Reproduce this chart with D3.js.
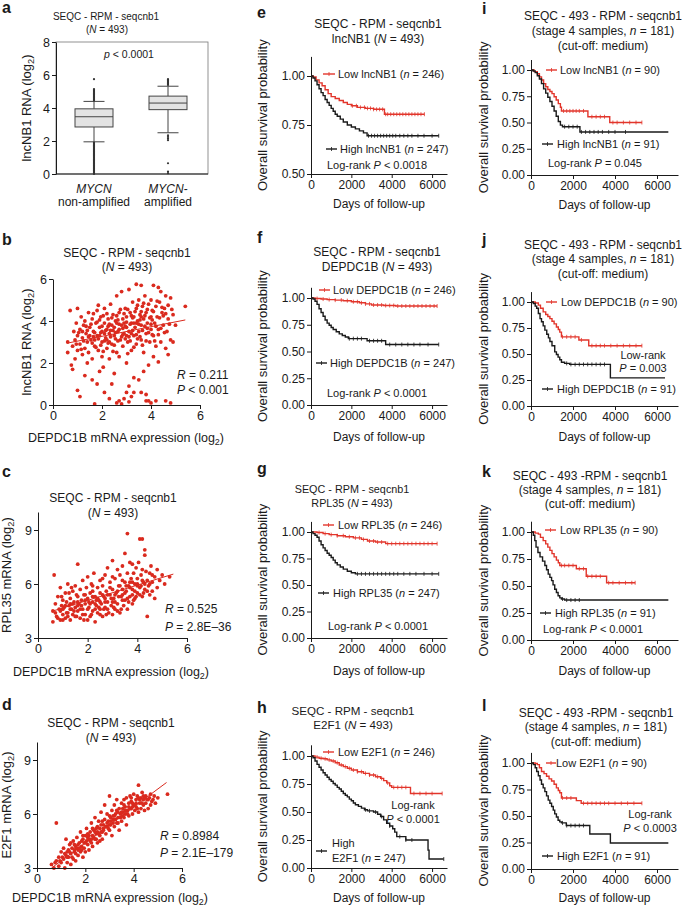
<!DOCTYPE html>
<html><head><meta charset="utf-8">
<script src="https://cdn.jsdelivr.net/npm/d3@7"></script>
<style>
body{margin:0;background:#fff;}
svg text{font-family:"Liberation Sans",Arial,Helvetica,sans-serif;white-space:pre;}
</style></head><body>
<script>
// ---------------- DATA ----------------
const boxCategories = ["non", "amp"];
const boxStats = [ // [whiskerLow, Q1, median, Q3, whiskerHigh]
  [1.95, 2.85, 3.47, 3.95, 4.4],
  [2.5, 3.9, 4.3, 4.72, 5.32]
];
const nonampOutliers = [4.45,4.5,4.55,4.6,4.65,4.7,4.75,4.8,4.85,4.9,4.95,5.0,5.05,5.1,5.15,5.75,
  1.9,1.85,1.8,1.75,1.7,1.65,1.6,1.55,1.5,1.45,1.4,1.35,1.3,1.25,1.2,1.15,1.1,1.05,1.0,0.95,0.9,0.85,0.8,0.75,0.7,0.65,0.6,0.55,0.5,0.45,0.4,0.35,0.3,0.25,0.2,0.15,0.1,0.05,0];
const ampOutliers = [5.4,5.45,5.5,5.55,5.6,5.65,5.7,5.75,2.35,2.25,2.15,2.05,0.65,0.15,0.05];
const boxYTicks = [0,2,4,6,8];
const scatterXTicks = [0,2,4,6];

const pointsB = [[0.6,3.0],[0.6,2.5],[0.7,4.5],[0.75,1.9],[0.8,1.7],[0.8,2.8],[0.85,3.5],[0.9,3.1],[0.9,2.2],[0.95,3.9],[1.0,0.7],[1.0,2.6],[1.0,4.6],[1.0,3.3],
 [1.1,0.4],[1.1,3.6],[1.1,2.9],[1.15,4.2],[1.2,3.2],[1.2,2.4],[1.25,3.8],[1.3,1.4],[1.3,2.7],[1.3,4.0],[1.35,3.4],[1.4,2.0],[1.4,3.0],[1.45,4.4],[1.45,2.5],[1.5,3.7],
 [1.55,3.1],[1.6,1.2],[1.6,2.2],[1.6,4.1],[1.65,3.5],[1.7,0.05],[1.7,2.8],[1.75,3.9],[1.8,1.0],[1.8,3.3],[1.8,4.5],[1.85,2.6],[1.9,1.6],[1.9,3.7],[1.95,4.2],[2.0,3.0],[2.0,2.3],[2.0,3.5],
 [2.05,1.8],[2.1,0.6],[2.1,3.9],[2.1,4.6],[2.15,3.2],[2.2,2.7],[2.2,3.6],[2.25,4.1],[2.3,0.3],[2.3,2.2],[2.3,3.4],[2.35,4.8],[2.4,1.0],[2.4,3.8],[2.4,2.9],[2.45,4.3],[2.5,1.5],[2.5,3.3],[2.5,3.7],
 [2.55,4.0],[2.6,0.1],[2.6,2.5],[2.6,5.2],[2.65,3.5],[2.7,0.2],[2.7,2.3],[2.7,4.4],[2.75,3.1],[2.8,0.05],[2.8,3.8],[2.8,5.4],[2.85,4.1],[2.85,2.8],[2.9,0.3],[2.9,3.4],[2.95,4.6],[3.0,0.6],[3.0,2.0],[3.0,3.7],[3.0,4.2],
 [3.05,3.0],[3.1,0.9],[3.1,0.15],[3.1,5.5],[3.1,3.5],[3.15,4.4],[3.2,0.4],[3.2,2.6],[3.2,3.9],[3.25,4.9],[3.3,0.6],[3.3,1.3],[3.3,3.3],[3.3,4.2],[3.35,3.7],[3.4,5.75],[3.4,2.9],[3.4,4.6],[3.45,4.0],[3.5,1.2],[3.5,3.5],[3.5,5.0],
 [3.55,4.3],[3.6,0.6],[3.6,5.7],[3.6,3.1],[3.6,3.8],[3.65,4.7],[3.7,1.6],[3.7,4.1],[3.7,2.5],[3.75,5.2],[3.8,0.5],[3.8,0.2],[3.8,3.4],[3.8,4.4],[3.85,3.9],[3.9,0.2],[3.9,1.9],[3.9,4.8],[3.95,3.0],[4.0,0.1],[4.0,4.2],[4.0,3.6],[4.0,5.0],
 [4.05,4.5],[4.1,5.7],[4.1,2.3],[4.1,3.3],[4.15,3.9],[4.2,0.2],[4.2,4.7],[4.2,2.8],[4.25,4.2],[4.3,5.6],[4.3,2.05],[4.3,3.6],[4.35,4.9],[4.4,5.4],[4.4,3.0],[4.45,4.4],[4.5,3.8],
 [4.55,4.6],[4.6,0.2],[4.6,2.7],[4.6,5.2],[4.65,3.5],[4.7,2.4],[4.7,4.1],[4.8,0.1],[4.8,5.1],[4.8,3.1],[4.9,3.0],[4.9,4.3],[5.0,3.8],[5.4,4.7],
 [1.2,3.5],[1.5,3.3],[1.7,3.1],[1.9,3.3],[2.1,3.4],[2.3,3.0],[2.6,3.9],[2.9,3.9],[3.2,3.4],[3.4,3.9],[3.6,4.2],[2.2,3.1],[2.7,3.6],[3.0,3.3],[3.3,3.9],
 [1.25,3.05],[1.35,3.75],[1.45,3.25],[1.55,3.85],[1.6,2.95],[1.65,4.35],[1.7,3.45],[1.75,2.75],[1.8,3.95],[1.85,3.15],[1.9,4.05],[1.95,2.85],[2.0,3.75],[2.05,4.25],[2.1,3.05],[2.15,3.55],[2.2,4.35],[2.25,2.95],[2.3,3.85],[2.35,3.25],[2.4,4.15],[2.45,3.55],[2.5,2.85],[2.55,3.45],[2.6,4.25],[2.65,3.05],[2.7,3.85],[2.75,4.55],[2.8,3.25],[2.85,3.65],[2.9,4.35],[2.95,3.15],[3.0,3.95],[3.05,4.55],[3.1,3.25],[3.15,3.85],[3.2,4.25],[3.25,3.55],[3.3,2.75],[3.35,4.45],[3.4,3.35],[3.45,4.75],[3.5,3.85],[3.55,3.25],[3.6,4.45],[3.65,3.55],[3.7,4.85],[3.75,3.75],[3.8,3.05],[3.85,4.55],[3.9,3.45],[3.95,4.15],[4.0,3.85],[4.05,3.35],[4.1,4.45],[4.15,3.05],[4.2,3.75],[4.25,4.95],[4.3,3.35],[4.35,4.15],[4.4,3.65],[4.45,4.65],[4.5,4.25],[4.55,3.45],[4.6,4.35],[4.7,4.75],[4.75,3.85],[4.85,4.55],[1.05,3.45],[0.95,2.9],[1.15,2.65],[1.4,3.55],[1.65,3.25],[1.95,3.45],[2.25,3.75],[2.55,3.15],[2.85,3.35],[3.15,3.05],[3.45,3.15],[3.75,4.25],[4.05,4.05],[2.35,3.55],[2.65,4.05],[2.95,3.75],[3.25,4.15],[3.55,4.05],[3.85,3.65],[2.45,2.55],[3.05,2.45],[3.65,2.85],[1.85,4.75],[2.05,2.55]];
const trendB = [[0.6,2.95],[5.4,4.05]];

const pointsC = [[0.6,4.5],[0.6,3.9],[0.65,6.5],[0.7,4.9],[0.75,4.2],[0.8,5.3],[0.85,4.6],[0.9,5.8],[0.9,4.0],[0.95,4.8],[1.0,5.1],[1.0,4.3],
 [1.05,4.7],[1.1,5.5],[1.1,4.1],[1.15,5.0],[1.2,4.4],[1.2,6.0],[1.25,4.8],[1.3,5.2],[1.3,4.0],[1.35,4.6],[1.4,5.6],[1.4,4.3],[1.45,5.0],[1.5,4.7],[1.5,5.9],
 [1.55,4.2],[1.6,7.1],[1.6,5.3],[1.6,4.5],[1.65,4.9],[1.7,5.7],[1.7,4.1],[1.75,5.1],[1.8,4.6],[1.8,6.2],[1.85,5.4],[1.9,4.3],[1.9,4.9],[1.95,5.8],[2.0,4.0],[2.0,5.2],[2.0,6.4],
 [2.05,4.7],[2.1,5.5],[2.1,4.2],[2.15,6.0],[2.2,5.0],[2.2,4.5],[2.25,6.6],[2.3,5.3],[2.3,3.9],[2.35,4.8],[2.4,5.8],[2.4,4.4],[2.45,5.1],[2.5,6.2],[2.5,4.6],[2.5,5.5],
 [2.55,4.9],[2.6,5.9],[2.6,4.2],[2.65,5.3],[2.7,6.5],[2.7,4.7],[2.75,5.6],[2.8,5.0],[2.8,6.9],[2.85,4.4],[2.9,5.4],[2.9,6.1],[2.95,4.8],[3.0,5.7],[3.0,7.3],[3.0,4.3],
 [3.05,5.2],[3.1,6.3],[3.1,4.6],[3.15,5.5],[3.2,6.8],[3.2,4.9],[3.25,5.9],[3.3,4.4],[3.3,6.5],[3.35,5.3],[3.4,7.0],[3.4,5.7],[3.45,4.8],[3.5,7.7],[3.5,6.1],[3.5,5.1],
 [3.55,5.6],[3.6,8.8],[3.6,6.6],[3.6,4.6],[3.65,5.9],[3.7,7.2],[3.7,5.3],[3.75,6.3],[3.8,7.1],[3.8,4.9],[3.8,5.7],[3.85,6.6],[3.9,6.0],[3.9,5.2],[3.95,6.9],[4.0,5.5],[4.0,6.3],
 [4.05,7.2],[4.1,8.5],[4.1,5.8],[4.15,6.5],[4.2,8.5],[4.2,5.3],[4.25,6.1],[4.3,7.9],[4.3,7.6],[4.3,5.7],[4.35,6.7],[4.4,6.2],[4.4,4.2],[4.45,5.9],[4.5,6.6],[4.5,5.4],
 [4.55,7.0],[4.6,6.1],[4.6,5.6],[4.7,6.4],[4.7,5.2],[4.8,6.8],[4.8,5.8],[4.9,6.2],[5.0,6.5],[5.1,6.0],[5.3,6.4],
 [1.0,4.6],[1.3,4.9],[1.6,4.8],[1.9,5.1],[2.2,5.3],[2.5,5.0],[2.8,5.4],[3.1,5.0],[3.4,5.4],[3.7,5.8],[4.0,5.9],[2.3,4.9],[2.7,5.2],[3.2,5.6],
 [0.7,4.4],[0.8,4.1],[0.9,4.5],[1.0,4.0],[1.1,4.8],[1.2,4.2],[1.3,4.6],[1.4,4.9],[1.5,4.2],[1.6,5.0],[1.7,4.6],[1.8,4.3],[1.9,5.4],[2.0,4.6],[2.1,4.9],[2.2,5.6],[2.3,4.6],[2.4,5.2],[2.5,4.3],[2.6,5.4],[2.7,5.0],[2.8,4.6],[2.9,5.8],[3.0,5.0],[3.1,5.4],[3.2,4.5],[3.3,5.9],[3.4,5.1],[3.5,5.5],[3.6,5.2],[3.7,6.1],[3.8,5.4],[3.9,5.6],[4.0,6.0],[4.1,5.4],[4.2,6.2],[4.3,6.0],[4.4,5.6],[4.5,6.0],[4.6,6.5],[1.15,4.4],[1.45,4.5],[1.75,4.8],[2.05,5.0],[2.35,5.1],[2.65,4.6],[2.95,5.2],[3.25,5.3],[3.55,5.9],[3.85,5.1],[4.15,5.9],[1.25,5.5],[1.55,5.4],[1.85,4.0],[2.15,4.3],[2.45,4.7],[2.75,4.3],[3.05,4.7],[3.35,4.6],[3.65,5.0],[3.95,5.3],[4.25,5.5],[2.6,6.3],[3.0,6.4],[3.4,6.2],[3.8,6.1],[4.2,6.8],[0.95,5.3],[1.35,5.8],[2.2,5.9]];
const trendC = [[0.6,4.5],[5.45,6.55]];

const pointsD = [[0.6,3.2],[0.7,3.0],[0.8,5.5],[0.8,3.4],[0.9,3.1],[0.9,3.6],[1.0,3.3],[1.0,3.9],
 [1.1,3.5],[1.1,4.1],[1.15,3.0],[1.2,4.6],[1.2,3.7],[1.25,3.3],[1.3,4.0],[1.3,3.6],[1.35,4.3],[1.4,3.8],[1.4,3.2],[1.45,4.1],[1.5,3.5],[1.5,4.5],
 [1.55,3.9],[1.6,4.2],[1.6,3.4],[1.65,4.7],[1.7,4.0],[1.7,3.7],[1.75,4.4],[1.8,5.0],[1.8,3.9],[1.85,4.2],[1.9,4.6],[1.9,3.6],[1.95,4.1],[2.0,4.8],[2.0,4.4],[2.0,3.9],
 [2.05,5.2],[2.1,4.3],[2.1,4.7],[2.15,4.0],[2.2,5.0],[2.2,4.5],[2.25,5.5],[2.3,4.2],[2.3,4.8],[2.35,5.1],[2.4,4.6],[2.4,5.8],[2.45,4.9],[2.5,5.3],[2.5,4.4],[2.5,5.0],
 [2.55,5.6],[2.6,4.8],[2.6,5.2],[2.65,6.1],[2.7,5.0],[2.7,4.6],[2.75,5.4],[2.8,6.5],[2.8,5.7],[2.85,4.9],[2.9,5.3],[2.9,6.0],[2.95,5.6],[3.0,5.1],[3.0,5.9],[3.0,7.0],
 [3.05,5.4],[3.1,6.2],[3.1,4.8],[3.15,5.7],[3.2,6.5],[3.2,5.3],[3.25,6.0],[3.3,5.5],[3.3,6.8],[3.35,5.8],[3.4,6.3],[3.4,5.1],[3.45,6.0],[3.5,6.6],[3.5,5.6],
 [3.55,6.1],[3.6,6.8],[3.6,5.8],[3.65,6.4],[3.7,5.4],[3.7,6.9],[3.75,6.2],[3.8,6.6],[3.8,5.9],[3.85,7.0],[3.9,6.3],[3.9,6.7],[3.95,6.0],[4.0,6.5],[4.0,7.1],
 [4.05,6.2],[4.1,6.8],[4.1,6.4],[4.15,7.0],[4.2,7.6],[4.2,6.1],[4.25,6.6],[4.3,6.9],[4.3,6.3],[4.35,7.2],[4.4,6.5],[4.4,6.8],[4.45,6.2],[4.5,7.0],[4.5,6.6],
 [4.6,6.8],[4.6,6.3],[4.7,7.1],[4.7,6.5],[4.8,6.8],[4.9,6.6],[5.0,6.9],[5.4,7.1],
 [1.25,3.9],[1.55,4.3],[1.85,4.5],[2.15,4.8],[2.45,5.2],[2.75,5.1],[3.05,5.8],[3.35,6.1],[3.65,6.0],[3.95,6.4],[2.25,4.6],[2.65,5.4],[3.15,5.5],[3.55,6.3],
 [0.75,3.3],[0.95,3.4],[1.05,3.6],[1.15,3.8],[1.25,3.6],[1.35,3.9],[1.45,3.6],[1.55,4.0],[1.65,4.1],[1.75,4.1],[1.85,4.0],[1.95,4.4],[2.05,4.5],[2.15,4.6],[2.25,4.4],[2.35,4.7],[2.45,4.6],[2.55,4.9],[2.65,5.0],[2.75,5.2],[2.85,5.3],[2.95,5.2],[3.05,5.6],[3.15,5.9],[3.25,5.7],[3.35,5.5],[3.45,5.8],[3.55,5.9],[3.65,6.2],[3.75,6.0],[3.85,6.3],[3.95,6.6],[4.05,6.5],[4.15,6.3],[4.25,6.8],[4.35,6.6],[4.45,6.9],[4.55,6.8],[4.65,6.9],[4.75,6.7],[4.85,7.0],[2.1,4.9],[2.4,5.0],[2.6,4.5],[2.9,5.5],[3.2,5.9],[3.5,6.1],[3.8,6.4],[4.1,6.6],[4.4,7.0],[1.7,4.3],[2.3,5.2],[2.7,5.6],[3.0,5.4],[3.3,6.2],[3.6,6.5],[3.9,6.9],[4.2,6.9],[1.4,4.4],[1.6,3.8],[1.9,4.8]];
const trendD = [[0.6,3.0],[5.36,7.75]];

const kmXTicks = [0,2000,4000,6000];
const kmYTicksFull = [0,0.25,0.5,0.75,1];
const kmYTicksE = [0.5,0.75,1];

// survival step data [days, probability]
const eLow = [[0,1],[100,0.995],[250,0.98],[400,0.965],[550,0.95],[700,0.93],[850,0.91],[1000,0.895],[1200,0.885],[1400,0.875],[1600,0.865],[1800,0.855],[2000,0.848],[2300,0.84],[2700,0.835],[3100,0.83],[3640,0.805],[5620,0.805]];
const eHigh = [[0,1],[100,0.99],[200,0.975],[300,0.955],[400,0.935],[500,0.915],[600,0.9],[700,0.88],[800,0.865],[900,0.85],[1000,0.835],[1100,0.82],[1200,0.805],[1300,0.795],[1450,0.78],[1600,0.765],[1800,0.75],[2000,0.74],[2200,0.73],[2400,0.72],[2600,0.71],[2780,0.695],[6330,0.695]];
const eLowCens = [2050,2250,2450,2650,2800,2950,3100,3250,3400,3550,3700,3800,3950,4100,4250,4400,4550,4700,4850,5000,5150,5300,5450,5620];
const eHighCens = [2850,3000,3150,3300,3450,3600,3750,3900,4050,4200,4400,4600,4800,5000,5300,5600,6000,6330];

const fLow = [[0,1],[200,0.995],[500,0.99],[800,0.985],[1200,0.98],[1600,0.975],[2000,0.965],[2400,0.955],[2700,0.945],[3000,0.935],[3600,0.93],[4200,0.925],[6250,0.925]];
const fHigh = [[0,1],[100,0.99],[200,0.97],[300,0.94],[400,0.9],[500,0.865],[600,0.83],[700,0.795],[800,0.765],[900,0.745],[1000,0.725],[1100,0.705],[1250,0.685],[1400,0.665],[1550,0.65],[1700,0.635],[1850,0.62],[2780,0.6],[3700,0.565],[6330,0.565]];
const fLowCens = [300,600,900,1200,1500,1800,2100,2300,2500,2700,2900,3100,3300,3500,3700,3900,4100,4300,4500,4700,4900,5100,5300,5500,5700,5900,6100,6250];
const fHighCens = [1900,2100,2300,2500,2900,3100,3300,3500,3900,4200,4500,4800,5100,5400,5800,6330];

const gLow = [[0,1],[300,0.995],[600,0.985],[900,0.975],[1300,0.965],[1700,0.955],[2100,0.945],[2500,0.93],[2800,0.915],[3200,0.905],[3700,0.89],[6250,0.89]];
const gHigh = [[0,1],[100,0.985],[200,0.97],[300,0.95],[400,0.915],[500,0.88],[600,0.85],[700,0.825],[800,0.8],[900,0.78],[1000,0.76],[1100,0.735],[1200,0.71],[1300,0.69],[1450,0.67],[1600,0.65],[1800,0.63],[2000,0.615],[2200,0.605],[6330,0.605]];
const gLowCens = [400,700,1000,1300,1600,1900,2200,2400,2600,2900,3100,3300,3500,3800,4000,4200,4400,4600,4800,5000,5200,5400,5600,5800,6000,6250];
const gHighCens = [2300,2500,2700,2900,3100,3300,3500,3700,3900,4100,4300,4600,4900,5200,5600,6000,6330];

const hLow = [[0,1],[200,0.99],[400,0.98],[600,0.975],[800,0.965],[1000,0.955],[1200,0.94],[1400,0.92],[1600,0.905],[1800,0.89],[2000,0.875],[2300,0.86],[2600,0.845],[2900,0.83],[3200,0.815],[3450,0.8],[3600,0.78],[3750,0.76],[3900,0.735],[4000,0.72],[4930,0.665],[6500,0.665]];
const hHigh = [[0,1],[100,0.985],[200,0.955],[300,0.925],[400,0.9],[500,0.875],[600,0.85],[700,0.83],[800,0.81],[900,0.79],[1000,0.775],[1100,0.755],[1200,0.74],[1300,0.72],[1400,0.705],[1500,0.685],[1600,0.665],[1700,0.65],[1800,0.635],[1900,0.615],[2000,0.6],[2100,0.58],[2200,0.565],[2350,0.55],[2500,0.535],[2650,0.52],[2800,0.51],[3100,0.5],[3300,0.48],[3450,0.46],[3600,0.43],[3750,0.4],[3900,0.375],[4050,0.35],[4150,0.32],[4250,0.28],[4700,0.25],[5800,0.16],[5850,0.08],[6580,0.08]];
const hLowCens = [300,500,700,900,1100,1300,1500,1700,1900,2100,2300,2500,2700,2900,3100,3300,3500,3800,4100,4300,4500,4700,5100,5400,5700,6000,6500];
const hHighCens = [2700,2900,3200,3500,3900,4400,4700,5000,6580];

const iLow = [[0,1],[150,0.985],[300,0.965],[400,0.935],[500,0.905],[600,0.87],[700,0.84],[800,0.815],[900,0.795],[1000,0.775],[1100,0.745],[1200,0.715],[1300,0.68],[1400,0.645],[1450,0.61],[2710,0.555],[3750,0.5],[5280,0.5]];
const iHigh = [[0,1],[100,0.99],[200,0.975],[300,0.945],[400,0.915],[500,0.87],[600,0.82],[700,0.78],[800,0.74],[900,0.7],[1000,0.655],[1100,0.61],[1200,0.56],[1300,0.51],[1400,0.475],[1500,0.46],[2330,0.41],[6540,0.41]];
const iLowCens = [1550,1700,1850,2000,2150,2300,2500,2900,3100,3300,3500,3900,4100,4400,4700,5000,5280];
const iHighCens = [1600,1800,2000,2200,2400,2600,2800,3000,3200,3400,3700,4000,4500];

const jLow = [[0,1],[200,0.99],[350,0.97],[450,0.94],[580,0.905],[700,0.88],[800,0.86],[900,0.84],[1000,0.815],[1100,0.79],[1210,0.76],[1300,0.735],[1370,0.71],[1450,0.665],[2280,0.635],[2750,0.58],[5280,0.58]];
const jHigh = [[0,1],[110,0.985],[200,0.96],[270,0.94],[350,0.89],[430,0.84],[500,0.81],[580,0.77],[660,0.73],[750,0.69],[830,0.655],[900,0.62],[1000,0.58],[1130,0.52],[1210,0.495],[1290,0.47],[1370,0.445],[1450,0.42],[1600,0.41],[1840,0.4],[3780,0.27],[6380,0.27]];
const jLowCens = [1500,1700,1900,2100,2400,2900,3100,3300,3500,3800,4100,4400,4700,5000,5280];
const jHighCens = [1700,1900,2100,2300,2500,2700,2900,3100,3300,3500];

const kLow = [[0,1],[200,0.99],[350,0.98],[450,0.95],[580,0.92],[700,0.89],[800,0.86],[900,0.83],[1000,0.8],[1100,0.77],[1210,0.74],[1300,0.715],[1370,0.69],[2160,0.66],[2630,0.59],[3600,0.53],[4960,0.53]];
const kHigh = [[0,1],[110,0.97],[180,0.92],[240,0.86],[330,0.81],[430,0.77],[550,0.73],[660,0.69],[740,0.65],[820,0.61],[900,0.58],[980,0.55],[1050,0.51],[1130,0.47],[1210,0.44],[1290,0.41],[1370,0.39],[1450,0.38],[1600,0.37],[6540,0.37]];
const kLowCens = [1450,1600,1800,2000,2300,2500,2700,2900,3100,3300,3700,3900,4200,4500,4800,4960];
const kHighCens = [1500,1700,1900,2100,2300];

const lLow = [[0,1],[200,0.995],[300,0.985],[400,0.955],[500,0.92],[620,0.9],[740,0.875],[860,0.85],[980,0.83],[1100,0.8],[1210,0.765],[1300,0.74],[1370,0.72],[1450,0.67],[2160,0.645],[2390,0.62],[5280,0.62]];
const lHigh = [[0,1],[110,0.985],[200,0.955],[270,0.92],[350,0.88],[430,0.84],[500,0.8],[580,0.765],[660,0.73],[740,0.69],[820,0.65],[900,0.62],[980,0.59],[1060,0.555],[1130,0.52],[1210,0.49],[1290,0.46],[1370,0.445],[1450,0.435],[1680,0.41],[2800,0.33],[3780,0.245],[6540,0.245]];
const lLowCens = [1500,1700,1900,2500,2700,2900,3100,3300,3500,3700,4000,4300,4600,4900,5280];
const lHighCens = [1500,1700,1900,2100,2300,2500];

// ---------------- DRAWING ----------------
const RED = "#e2352b", SRED = "#da2a1e", INK = "#1a1a1a";
const svg = d3.select("body").append("svg").attr("width",685).attr("height",908);

function rich(t, str){
  const parts = str.split(/(\*[^*]+\*|~[^~]+~)/g).filter(s=>s.length);
  let sub=false;
  parts.forEach(p=>{
    let ts;
    if(p[0]==='*'){ ts=t.append('tspan').attr('font-style','italic').text(p.slice(1,-1)); }
    else if(p[0]==='~'){ ts=t.append('tspan').attr('font-size','0.72em').attr('dy',3).text(p.slice(1,-1)); sub=true; return; }
    else { ts=t.append('tspan').text(p); }
    if(sub){ ts.attr('dy',-3); sub=false; }
  });
}
function T(x,y,str,o={}){
  const t=svg.append("text").attr("x",x).attr("y",y).attr("font-size",o.size||12)
    .attr("text-anchor",o.anchor||"start").attr("fill",INK);
  if(o.rotate) t.attr("transform",`rotate(-90,${x},${y})`);
  if(o.bold) t.attr("font-weight","bold");
  rich(t,str); return t;
}
function styleAxis(g,fs){
  g.attr("font-family",null).attr("font-size",null);
  g.select(".domain").attr("stroke",INK).attr("stroke-width",1);
  g.selectAll(".tick line").attr("stroke",INK);
  g.selectAll(".tick text").attr("fill",INK).attr("font-size",fs);
}
function axisLeft(scale,x,vals,fmt,fs){
  const g=svg.append("g").attr("transform",`translate(${x},0)`)
    .call(d3.axisLeft(scale).tickValues(vals).tickFormat(fmt).tickSize(4).tickSizeOuter(0).tickPadding(2));
  styleAxis(g,fs); return g;
}
function axisBottom(scale,y,vals,fmt,fs){
  const g=svg.append("g").attr("transform",`translate(0,${y})`)
    .call(d3.axisBottom(scale).tickValues(vals).tickFormat(fmt).tickSize(4).tickSizeOuter(0).tickPadding(2));
  styleAxis(g,fs); return g;
}

// ----- panel a: box plot -----
(function(){
  const y=d3.scaleLinear().domain([0,8]).range([174,42]);
  const x=d3.scalePoint().domain(boxCategories).range([94,168]);
  svg.append("rect").attr("x",56).attr("y",42).attr("width",152).attr("height",132)
    .attr("fill","none").attr("stroke","#777").attr("stroke-width",0.8);
  axisLeft(y,56,boxYTicks,d3.format("d"),12.5);
  svg.append("line").attr("x1",56).attr("x2",208).attr("y1",174).attr("y2",174).attr("stroke",INK);
  const bw=38, cw=21;
  boxCategories.forEach((c,i)=>{
    const s=boxStats[i], cx=x(c);
    const g=svg.append("g").attr("stroke","#444").attr("stroke-width",1);
    g.append("line").attr("x1",cx).attr("x2",cx).attr("y1",y(s[0])).attr("y2",y(s[1]));
    g.append("line").attr("x1",cx).attr("x2",cx).attr("y1",y(s[3])).attr("y2",y(s[4]));
    g.append("line").attr("x1",cx-cw/2).attr("x2",cx+cw/2).attr("y1",y(s[0])).attr("y2",y(s[0]));
    g.append("line").attr("x1",cx-cw/2).attr("x2",cx+cw/2).attr("y1",y(s[4])).attr("y2",y(s[4]));
    g.append("rect").attr("x",cx-bw/2).attr("width",bw).attr("y",y(s[3])).attr("height",y(s[1])-y(s[3])).attr("fill","#e3e3e3");
    g.append("line").attr("x1",cx-bw/2).attr("x2",cx+bw/2).attr("y1",y(s[2])).attr("y2",y(s[2]));
    const outs = i===0?nonampOutliers:ampOutliers;
    svg.append("g").selectAll("circle").data(outs).join("circle")
      .attr("cx",cx).attr("cy",d=>y(d)).attr("r",1.1).attr("fill","#333");
  });
  T(2,13,"a",{size:16,bold:true});
  T(106,20,"SEQC - RPM - seqcnb1",{size:10,anchor:"middle"});
  T(107,33,"(*N* = 493)",{size:10,anchor:"middle"});
  T(104,58,"*p* < 0.0001",{size:10.5});
  T(31,108,"lncNB1 RNA (log~2~)",{size:13,anchor:"middle",rotate:true});
  T(x("non"),193,"*MYCN*",{size:12,anchor:"middle"});
  T(x("non"),206,"non-amplified",{size:12,anchor:"middle"});
  T(x("amp"),193,"*MYCN*-",{size:12,anchor:"middle"});
  T(x("amp"),206,"amplified",{size:12,anchor:"middle"});
})();

// ----- scatter panels -----
function scatter(p){
  const x=d3.scaleLinear().domain([0,6]).range([p.x0,p.x1]);
  const y=d3.scaleLinear().domain([p.ymin,p.ymax]).range([p.yb,p.yt]);
  svg.append("g").selectAll("circle").data(p.pts).join("circle")
    .attr("cx",d=>x(d[0])).attr("cy",d=>y(d[1])).attr("r",1.9).attr("fill",SRED);
  svg.append("line").attr("x1",x(p.trend[0][0])).attr("y1",y(p.trend[0][1]))
    .attr("x2",x(p.trend[1][0])).attr("y2",y(p.trend[1][1])).attr("stroke",SRED).attr("stroke-width",1);
  axisLeft(y,p.x0,p.yticks,d3.format("d"),12.5);
  axisBottom(x,p.yb,scatterXTicks,d3.format("d"),12.5);
  T(2,p.letterY,p.letter,{size:16,bold:true});
  T(p.tcx,p.t1,"SEQC - RPM - seqcnb1",{size:12,anchor:"middle"});
  T(p.tcx,p.t2,"(*N* = 493)",{size:12,anchor:"middle"});
  T(p.rx,p.r1,p.rText,{size:12});
  T(p.rx,p.r2,p.pText,{size:12});
  T(p.ylx,p.yly,p.ylab,{size:13,anchor:"middle",rotate:true});
  T(p.xlx,p.xly,"DEPDC1B mRNA expression (log~2~)",{size:12.5,anchor:"middle"});
}
scatter({pts:pointsB,trend:trendB,x0:53,x1:200,ymin:0,ymax:6,yb:405,yt:279,yticks:[0,2,4,6],
  letter:"b",letterY:245,tcx:127,t1:257,t2:271,rx:177,r1:379,r2:394,rText:"*R* = 0.211",pText:"*P* < 0.001",
  ylab:"lncNB1 RNA (log~2~)",ylx:31,yly:342,xlx:126,xly:442});
scatter({pts:pointsC,trend:trendC,x0:38,x1:187,ymin:3,ymax:10,yb:638,yt:512,yticks:[3,6,9],
  letter:"c",letterY:477,tcx:113,t1:502,t2:517,rx:165,r1:613,r2:631,rText:"*R* = 0.525",pText:"*P* = 2.8E–36",
  ylab:"RPL35 mRNA (log~2~)",ylx:11,yly:575,xlx:111,xly:676});
scatter({pts:pointsD,trend:trendD,x0:37,x1:182,ymin:3,ymax:10,yb:868,yt:742,yticks:[3,6,9],
  letter:"d",letterY:710,tcx:111,t1:727,t2:742,rx:160,r1:840,r2:857,rText:"*R* = 0.8984",pText:"*P* = 2.1E–179",
  ylab:"E2F1 mRNA (log~2~)",ylx:11,yly:805,xlx:110,xly:902});

// ----- Kaplan-Meier panels -----
function survAt(steps,t){ let s=steps[0][1]; for(const d of steps){ if(d[0]<=t) s=d[1]; } return s; }
function km(p){
  const x=d3.scaleLinear().domain([0,p.tmax]).range([p.x0,p.x1]);
  const y=d3.scaleLinear().domain([p.ymin,1]).range([p.yZero,p.yOne]);
  const yAx=d3.scaleLinear().domain([p.ymin,1.1]).range([p.yZero,y(1.1)]);
  const line=d3.line().x(d=>x(d[0])).y(d=>y(d[1])).curve(d3.curveStepAfter);
  [[p.low,p.lowC,RED],[p.high,p.highC,INK]].forEach(([st,cs,col])=>{
    svg.append("path").attr("d",line(st)).attr("fill","none").attr("stroke",col).attr("stroke-width",1.4);
    svg.append("g").selectAll("line").data(cs).join("line")
      .attr("x1",d=>x(d)).attr("x2",d=>x(d)).attr("y1",d=>y(survAt(st,d))-2).attr("y2",d=>y(survAt(st,d))+2)
      .attr("stroke",col).attr("stroke-width",0.8);
  });
  axisLeft(yAx,p.x0,p.yticks,d3.format(".2f"),12);
  axisBottom(x,p.yZero,kmXTicks,d3.format("d"),12);
  T(p.letterX,p.letterY,p.letter,{size:16,bold:true});
  p.titles.forEach(tt=>T(p.tcx,tt[0],tt[1],{size:p.tsize||12,anchor:"middle"}));
  [[p.lowLeg,RED],[p.highLeg,INK]].forEach(([L,col])=>{
    svg.append("line").attr("x1",L.x0).attr("x2",L.x1).attr("y1",L.y).attr("y2",L.y).attr("stroke",col).attr("stroke-width",1.4);
    svg.append("line").attr("x1",(L.x0+L.x1)/2).attr("x2",(L.x0+L.x1)/2).attr("y1",L.y-2).attr("y2",L.y+2).attr("stroke",col).attr("stroke-width",0.8);
    L.lines.forEach(ln=>T(ln[0],ln[1],ln[2],{size:11}));
  });
  p.notes.forEach(n=>T(n[0],n[1],n[2],{size:11,anchor:n[3]||"start"}));
  T(p.ylx,(p.yZero+y(1.1))/2,"Overall survival probability",{size:13,anchor:"middle",rotate:true});
  T((p.x0+p.x1)/2,p.xly,"Days of follow-up",{size:12,anchor:"middle"});
}
const MID={x0:311,x1:447,tmax:6740,letterX:257,ylx:267};
const RIGHT={x0:531,x1:678,tmax:7000,letterX:482,ylx:488};

km(Object.assign({},MID,{letter:"e",letterY:18,ymin:0.5,yZero:174,yOne:76,yticks:kmYTicksE,
  low:eLow,lowC:eLowCens,high:eHigh,highC:eHighCens,tcx:378,titles:[[28,"SEQC - RPM - seqcnb1"],[43,"lncNB1 (*N* = 493)"]],
  lowLeg:{x0:323,x1:335,y:74,lines:[[338,78,"Low lncNB1 (*n* = 246)"]]},
  highLeg:{x0:326,x1:337,y:149,lines:[[340,153,"High lncNB1 (*n* = 247)"]]},
  notes:[[327,169,"Log-rank *P* < 0.0018"]],xly:208}));
km(Object.assign({},MID,{letter:"f",letterY:243,ymin:0,yZero:405,yOne:298,yticks:kmYTicksFull,
  low:fLow,lowC:fLowCens,high:fHigh,highC:fHighCens,tcx:377,titles:[[256,"SEQC - RPM - seqcnb1"],[271,"DEPDC1B (*N* = 493)"]],
  lowLeg:{x0:319,x1:330,y:290,lines:[[333,294,"Low DEPDC1B (*n* = 246)"]]},
  highLeg:{x0:316,x1:327,y:363,lines:[[330,367,"High DEPDC1B (*n* = 247)"]]},
  notes:[[327,397,"Log-rank *P* < 0.0001"]],xly:441}));
km(Object.assign({},MID,{letter:"g",letterY:474,ymin:0,yZero:638,yOne:532,yticks:kmYTicksFull,
  low:gLow,lowC:gLowCens,high:gHigh,highC:gHighCens,tcx:352,tsize:10.8,titles:[[493,"SEQC - RPM - seqcnb1"],[507,"RPL35 (*N* = 493)"]],
  lowLeg:{x0:323,x1:334,y:525,lines:[[338,529,"Low RPL35 (*n* = 246)"]]},
  highLeg:{x0:318,x1:329,y:593,lines:[[333,597,"High RPL35 (*n* = 247)"]]},
  notes:[[328,630,"Log-rank *P* < 0.0001"]],xly:675}));
km(Object.assign({},MID,{letter:"h",letterY:713,ymin:0,yZero:868,yOne:756,yticks:kmYTicksFull,
  low:hLow,lowC:hLowCens,high:hHigh,highC:hHighCens,tcx:353,tsize:11.6,titles:[[715,"SEQC - RPM - seqcnb1"],[729,"E2F1 (*N* = 493)"]],
  lowLeg:{x0:323,x1:334,y:752,lines:[[338,756,"Low E2F1 (*n* = 246)"]]},
  highLeg:{x0:316,x1:327,y:851,lines:[[332,847,"High"],[332,862,"E2F1 (*n* = 247)"]]},
  notes:[[413,809,"Log-rank","middle"],[413,823,"*P* < 0.0001","middle"]],xly:902}));

km(Object.assign({},RIGHT,{letter:"i",letterY:14,ymin:0,yZero:175,yOne:70,yticks:kmYTicksFull,
  low:iLow,lowC:iLowCens,high:iHigh,highC:iHighCens,tcx:603,titles:[[20,"SEQC - 493 - RPM - seqcnb1"],[35,"(stage 4 samples, *n* = 181)"],[50,"(cut-off: medium)"]],
  lowLeg:{x0:546,x1:557,y:70,lines:[[560,74,"Low lncNB1 (*n* = 90)"]]},
  highLeg:{x0:542,x1:553,y:144,lines:[[557,148,"High lncNB1 (*n* = 91)"]]},
  notes:[[548,167,"Log-rank *P* = 0.045"]],xly:209}));
km(Object.assign({},RIGHT,{letter:"j",letterY:245,ymin:0,yZero:406,yOne:302,yticks:kmYTicksFull,
  low:jLow,lowC:jLowCens,high:jHigh,highC:jHighCens,tcx:603,titles:[[249,"SEQC - 493 - RPM - seqcnb1"],[263,"(stage 4 samples, *n* = 181)"],[278,"(cut-off: medium)"]],
  lowLeg:{x0:546,x1:557,y:302,lines:[[561,306,"Low DEPDC1B (*n* = 90)"]]},
  highLeg:{x0:542,x1:553,y:389,lines:[[557,393,"High DEPDC1B (*n* = 91)"]]},
  notes:[[643,359,"Low-rank","middle"],[643,372,"*P* = 0.003","middle"]],xly:441}));
km(Object.assign({},RIGHT,{letter:"k",letterY:477,ymin:0,yZero:640,yOne:532,yticks:kmYTicksFull,
  low:kLow,lowC:kLowCens,high:kHigh,highC:kHighCens,tcx:590,titles:[[480,"SEQC - 493 -RPM - seqcnb1"],[494,"(stage 4 samples, *n* = 181)"],[508,"(cut-off: medium)"]],
  lowLeg:{x0:545,x1:556,y:530,lines:[[560,534,"Low RPL35 (*n* = 90)"]]},
  highLeg:{x0:540,x1:551,y:613,lines:[[555,617,"High RPL35 (*n* = 91)"]]},
  notes:[[543,633,"Log-rank *P* < 0.0001"]],xly:675}));
km(Object.assign({},RIGHT,{letter:"l",letterY:711,ymin:0,yZero:869,yOne:763,yticks:kmYTicksFull,
  low:lLow,lowC:lLowCens,high:lHigh,highC:lHighCens,tcx:596,titles:[[717,"SEQC - 493 -RPM - seqcnb1"],[731,"(stage 4 samples, *n* = 181)"],[746,"(cut-off: medium)"]],
  lowLeg:{x0:546,x1:556,y:763,lines:[[556,767,"Low E2F1 (*n* = 90)"]]},
  highLeg:{x0:542,x1:553,y:856,lines:[[557,860,"High E2F1 (*n* = 91)"]]},
  notes:[[650,818,"Log-rank","middle"],[650,832,"*P* < 0.0003","middle"]],xly:902}));
</script></body></html>
